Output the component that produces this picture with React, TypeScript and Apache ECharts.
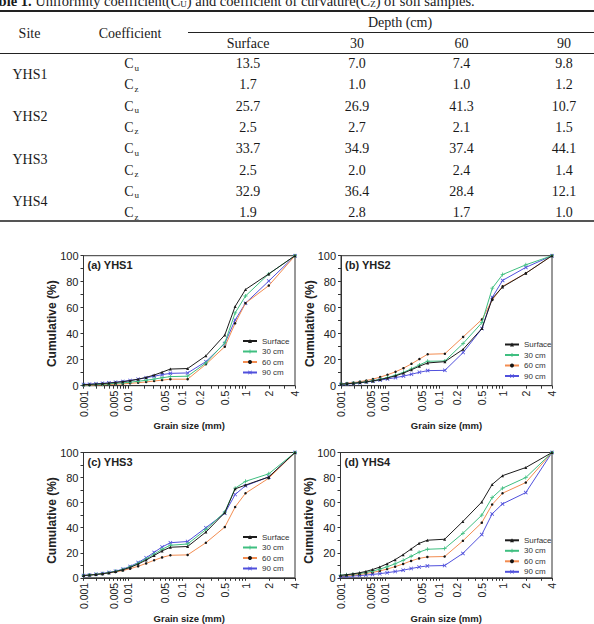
import React, { useEffect, useRef } from 'react';
import * as echarts from 'echarts';

// ---- Table 1: uniformity coefficient (Cu) and coefficient of curvature (Cz) ----
const sites = ['YHS1', 'YHS2', 'YHS3', 'YHS4'];
const depthHeaders = ['Surface', '30', '60', '90'];
const cuValues = [
  [13.5, 7.0, 7.4, 9.8],
  [25.7, 26.9, 41.3, 10.7],
  [33.7, 34.9, 37.4, 44.1],
  [32.9, 36.4, 28.4, 12.1],
];
const czValues = [
  [1.7, 1.0, 1.0, 1.2],
  [2.5, 2.7, 2.1, 1.5],
  [2.5, 2.0, 2.4, 1.4],
  [1.9, 2.8, 1.7, 1.0],
];

// ---- Grain-size distribution curves ----
// grain diameters (mm): hydrometer readings at half-phi steps, then sieves
const grainSizes = [
  0.001, 0.00138, 0.00195, 0.00276, 0.0039, 0.0055, 0.0078, 0.011, 0.0156, 0.0221,
  0.03125, 0.0442, 0.0625, 0.125, 0.25, 0.5, 0.707, 1, 2, 4,
];
const depthNames = ['Surface', '30 cm', '60 cm', '90 cm'];

const yhs1Surface = [0.8, 1.0, 1.3, 1.6, 2.0, 2.5, 3.1, 3.9, 5.0, 6.4, 8.2, 10.4, 12.8, 13.2, 23.0, 39.0, 61.0, 74.0, 86.0, 100];
const yhs1Cm30 = [0.5, 0.7, 0.9, 1.1, 1.4, 1.8, 2.2, 2.7, 3.4, 4.2, 5.1, 6.1, 7.0, 7.3, 17.5, 33.0, 56.0, 69.0, 86.0, 100];
const yhs1Cm60 = [0.3, 0.4, 0.5, 0.7, 0.9, 1.1, 1.4, 1.8, 2.3, 2.9, 3.6, 4.3, 5.0, 5.0, 16.5, 30.0, 48.0, 63.5, 77.0, 100];
const yhs1Cm90 = [1.0, 1.2, 1.5, 1.8, 2.2, 2.7, 3.3, 4.0, 5.0, 6.1, 7.3, 8.5, 9.5, 9.8, 18.5, 32.5, 50.5, 63.5, 80.5, 100];

const yhs2Surface = [1.2, 1.5, 1.9, 2.4, 3.0, 3.7, 4.7, 6.0, 7.6, 9.7, 12.3, 15.0, 17.5, 18.5, 28.0, 44.0, 67.0, 76.0, 86.5, 100];
const yhs2Cm30 = [1.2, 1.5, 1.9, 2.4, 3.0, 3.8, 4.9, 6.3, 8.1, 10.3, 13.0, 16.0, 18.8, 19.0, 32.5, 48.5, 75.0, 85.5, 93.0, 100];
const yhs2Cm60 = [1.5, 1.9, 2.4, 3.1, 4.0, 5.1, 6.6, 8.4, 10.7, 13.5, 16.8, 20.5, 24.2, 24.6, 37.5, 51.0, 66.0, 76.5, 86.5, 100];
const yhs2Cm90 = [1.0, 1.3, 1.7, 2.2, 2.8, 3.5, 4.3, 5.2, 6.2, 7.4, 8.8, 10.3, 11.6, 11.8, 25.5, 44.0, 68.0, 81.0, 91.0, 100];

const yhs3Surface = [1.8, 2.2, 2.7, 3.3, 4.0, 5.0, 6.4, 8.3, 11.0, 14.2, 17.8, 21.5, 24.4, 25.0, 36.5, 52.0, 71.0, 74.0, 80.5, 100];
const yhs3Cm30 = [1.8, 2.2, 2.7, 3.3, 4.1, 5.2, 6.7, 8.7, 11.6, 15.0, 18.9, 22.8, 26.0, 27.0, 38.5, 52.5, 71.5, 77.0, 83.0, 100];
const yhs3Cm60 = [1.8, 2.2, 2.6, 3.1, 3.8, 4.7, 5.8, 7.3, 9.2, 11.5, 14.0, 16.3, 18.0, 18.3, 28.0, 40.5, 56.5, 67.5, 79.5, 100];
const yhs3Cm90 = [1.9, 2.3, 2.8, 3.4, 4.2, 5.3, 6.9, 9.1, 12.2, 16.0, 20.3, 24.6, 28.0, 29.0, 40.0, 51.5, 66.5, 73.5, 80.5, 100];

const yhs4Surface = [2.0, 2.5, 3.2, 4.0, 5.1, 6.6, 8.6, 11.2, 14.5, 18.5, 23.0, 27.5, 30.0, 30.8, 45.0, 60.5, 74.5, 81.5, 88.0, 100];
const yhs4Cm30 = [2.0, 2.4, 2.9, 3.5, 4.3, 5.4, 6.9, 8.8, 11.2, 14.0, 17.2, 20.5, 22.8, 23.3, 35.5, 50.0, 64.0, 71.5, 80.0, 100];
const yhs4Cm60 = [1.5, 1.8, 2.2, 2.7, 3.4, 4.3, 5.5, 7.0, 8.9, 11.1, 13.5, 15.5, 16.7, 17.0, 29.5, 44.0, 58.5, 67.5, 76.0, 100];
const yhs4Cm90 = [1.0, 1.2, 1.5, 1.8, 2.2, 2.7, 3.3, 4.1, 5.0, 6.1, 7.4, 8.6, 9.5, 9.8, 19.5, 34.5, 51.0, 59.0, 68.0, 100];

const panelTitles = ['(a) YHS1', '(b) YHS2', '(c) YHS3', '(d) YHS4'];
const panelSeries = [
  [yhs1Surface, yhs1Cm30, yhs1Cm60, yhs1Cm90],
  [yhs2Surface, yhs2Cm30, yhs2Cm60, yhs2Cm90],
  [yhs3Surface, yhs3Cm30, yhs3Cm60, yhs3Cm90],
  [yhs4Surface, yhs4Cm30, yhs4Cm60, yhs4Cm90],
];

// labelled grain-size ticks
const tickValues = [0.001, 0.005, 0.01, 0.05, 0.1, 0.2, 0.5, 1, 2, 4];
const tickLabels = ['0.001', '0.005', '0.01', '0.05', '0.1', '0.2', '0.5', '1', '2', '4'];
const minorTickValues = [
  0.002, 0.003, 0.004, 0.006, 0.007, 0.008, 0.009,
  0.02, 0.03, 0.04, 0.06, 0.07, 0.08, 0.09,
  0.3, 0.4, 0.6, 0.7, 0.8, 0.9, 3,
];

// The grain-size axis is a stretched logarithmic scale: each labelled tick sits at
// a fixed fraction of the axis length, with log interpolation in between.
const AXIS_STOPS = [0, 0.142, 0.21, 0.385, 0.465, 0.55, 0.668, 0.766, 0.876, 1];
const tickLogs = tickValues.map((v) => Math.log10(v));
function grainPos(d: number): number {
  const l = Math.log10(d);
  if (l <= tickLogs[0]) return AXIS_STOPS[0];
  for (let i = 0; i < tickLogs.length - 1; i++) {
    if (l <= tickLogs[i + 1] + 1e-12) {
      const t = (l - tickLogs[i]) / (tickLogs[i + 1] - tickLogs[i]);
      return AXIS_STOPS[i] + t * (AXIS_STOPS[i + 1] - AXIS_STOPS[i]);
    }
  }
  return AXIS_STOPS[AXIS_STOPS.length - 1];
}
const tickPositions = tickValues.map(grainPos);
const allTickPositions = tickPositions.concat(minorTickValues.map(grainPos));
function tickLabelFor(v: number): string {
  for (let i = 0; i < tickPositions.length; i++) {
    if (Math.abs(tickPositions[i] - v) < 1e-6) return tickLabels[i];
  }
  return '';
}

const PLUS = 'path://M4,0H6V4H10V6H6V10H4V6H0V4H4Z';
const CROSS = 'path://M1.4,0L5,3.6L8.6,0L10,1.4L6.4,5L10,8.6L8.6,10L5,6.4L1.4,10L0,8.6L3.6,5L0,1.4Z';
const seriesStyles = [
  { line: '#1c1c1c', item: '#1c1c1c', symbol: 'triangle', size: 3 },
  { line: '#3fbf80', item: '#3fbf80', symbol: PLUS, size: 4 },
  { line: '#f28c50', item: '#151515', symbol: 'circle', size: 2.5 },
  { line: '#5050dc', item: '#5050dc', symbol: CROSS, size: 4 },
];

const SANS = '"Liberation Sans", Arial, sans-serif';
const SERIF = '"Liberation Serif", "Times New Roman", serif';

const grids = [
  { left: 83.5, top: 255.7, width: 211.5, height: 130 },
  { left: 341, top: 255.7, width: 211, height: 130 },
  { left: 83.5, top: 452.5, width: 211.5, height: 130 },
  { left: 340.5, top: 452.5, width: 211.5, height: 130 },
];
const legendPos = [
  { left: 242, top: 337 },
  { left: 504, top: 340.5 },
  { left: 242, top: 533 },
  { left: 504, top: 536.3 },
];

function tableGraphics(): any[] {
  const els: any[] = [];
  const txt = (x: number, y: number, s: string, extra: any = {}) => ({
    type: 'text',
    x,
    y,
    style: {
      text: s,
      font: `14px ${SERIF}`,
      fill: '#1a1a1a',
      align: 'center',
      verticalAlign: 'middle',
      ...extra,
    },
  });
  const hline = (x1: number, x2: number, y: number, w: number, c: string) => ({
    type: 'line',
    shape: { x1, y1: y, x2, y2: y },
    style: { stroke: c, lineWidth: w },
  });
  const subC = (x: number, y: number, sub: string) => [
    txt(x, y, 'C', { align: 'right' }),
    txt(x + 1, y + 4, sub, { align: 'left', font: `9px ${SERIF}` }),
  ];

  // caption (the top of the line lies above the page edge)
  els.push({
    type: 'text',
    x: -17,
    y: 1,
    style: {
      text: '{b|Table 1.} Uniformity coefficient(C{s|U}) and coefficient of curvature(C{s|Z}) of soil samples.',
      font: `14.5px ${SERIF}`,
      fill: '#1a1a1a',
      verticalAlign: 'middle',
      rich: {
        b: { fontWeight: 'bold', fontSize: 14.5, fontFamily: SERIF },
        s: { fontSize: 9, fontFamily: SERIF, padding: [6, 0, 0, 0] },
      },
    },
  });
  els.push(hline(0, 594, 11, 2, '#222'));
  els.push(hline(188, 594, 32.5, 1, '#222'));
  els.push(hline(0, 594, 53.5, 1, '#222'));
  els.push(hline(0, 594, 221, 2, '#555'));

  els.push(txt(29.5, 33.3, 'Site'));
  els.push(txt(130, 33.3, 'Coefficient'));
  els.push(txt(400, 22.7, 'Depth (cm)'));
  const colX = [248, 357, 461.5, 564];
  depthHeaders.forEach((h, i) => els.push(txt(colX[i], 43.7, h)));

  const rowY0 = 63.5;
  const rowStep = 21.3;
  sites.forEach((site, s) => {
    const yCu = rowY0 + rowStep * (2 * s);
    const yCz = yCu + rowStep;
    els.push(txt(30, (yCu + yCz) / 2, site));
    els.push(...subC(133.5, yCu, 'u'));
    els.push(...subC(133.5, yCz, 'z'));
    cuValues[s].forEach((v, i) => els.push(txt(colX[i], yCu, v.toFixed(1))));
    czValues[s].forEach((v, i) => els.push(txt(colX[i], yCz, v.toFixed(1))));
  });
  return els;
}

function buildOption(): any {
  const xAxis: any[] = [];
  const yAxis: any[] = [];
  const series: any[] = [];
  const legend: any[] = [];
  const graphic: any[] = tableGraphics();

  grids.forEach((g, p) => {
    xAxis.push({
      type: 'value',
      gridIndex: p,
      min: 0,
      max: 1,
      axisLine: { show: true, lineStyle: { color: '#333', width: 1 } },
      axisTick: { show: true, customValues: allTickPositions, length: 3, lineStyle: { color: '#333' } },
      axisLabel: {
        customValues: tickPositions,
        rotate: 90,
        fontSize: 10.5,
        fontFamily: SANS,
        color: '#222',
        margin: 5,
        formatter: (v: number) => tickLabelFor(v),
      },
      splitLine: { show: false },
      name: 'Grain size (mm)',
      nameLocation: 'middle',
      nameGap: 34,
      nameTextStyle: { fontWeight: 'bold', fontSize: 9.5, fontFamily: SANS, color: '#222' },
    });
    yAxis.push({
      type: 'value',
      gridIndex: p,
      min: 0,
      max: 100,
      interval: 20,
      axisLine: { show: true, lineStyle: { color: '#333', width: 1 } },
      axisTick: { show: true, length: 3, lineStyle: { color: '#333' } },
      minorTick: { show: true, splitNumber: 2, length: 3, lineStyle: { color: '#333' } },
      axisLabel: { fontSize: 11, fontFamily: SANS, color: '#222', margin: 5 },
      splitLine: { show: false },
    });
    panelSeries[p].forEach((vals, k) => {
      const st = seriesStyles[k];
      series.push({
        type: 'line',
        name: depthNames[k],
        xAxisIndex: p,
        yAxisIndex: p,
        data: grainSizes.map((d, j) => [grainPos(d), vals[j]]),
        symbol: st.symbol,
        symbolSize: st.size,
        showSymbol: true,
        lineStyle: { color: st.line, width: 1 },
        itemStyle: { color: st.item },
        z: 10 - k,
      });
    });
    legend.push({
      orient: 'vertical',
      left: legendPos[p].left,
      top: legendPos[p].top,
      padding: 0,
      itemWidth: 14,
      itemHeight: 5,
      itemGap: 2.5,
      selectedMode: false,
      textStyle: { fontSize: 8, fontFamily: SANS, color: '#333' },
      data: depthNames,
    });
    graphic.push({
      type: 'text',
      x: g.left + 4,
      y: g.top + 9.3,
      style: {
        text: panelTitles[p],
        font: `bold 11px ${SANS}`,
        fill: '#222',
        verticalAlign: 'middle',
      },
    });
    graphic.push({
      type: 'text',
      x: g.left - 31.5,
      y: g.top + g.height / 2 + 3,
      rotation: Math.PI / 2,
      style: {
        text: 'Cumulative (%)',
        font: `bold 12px ${SANS}`,
        fill: '#222',
        align: 'center',
        verticalAlign: 'middle',
      },
    });
  });

  return {
    animation: false,
    backgroundColor: '#ffffff',
    textStyle: { fontFamily: SANS },
    grid: grids.map((g) => ({ ...g, show: true, borderColor: '#333', borderWidth: 1, backgroundColor: 'transparent' })),
    xAxis,
    yAxis,
    series,
    legend,
    graphic,
  };
}

export default function App() {
  const ref = useRef<HTMLDivElement>(null);
  useEffect(() => {
    if (!ref.current) return;
    const chart = echarts.init(ref.current, undefined, { renderer: 'svg' });
    chart.setOption(buildOption());
    return () => chart.dispose();
  }, []);
  return (
    <div
      ref={ref}
      style={{ position: 'absolute', left: 0, top: 0, width: 594, height: 624, background: '#fff' }}
    />
  );
}
